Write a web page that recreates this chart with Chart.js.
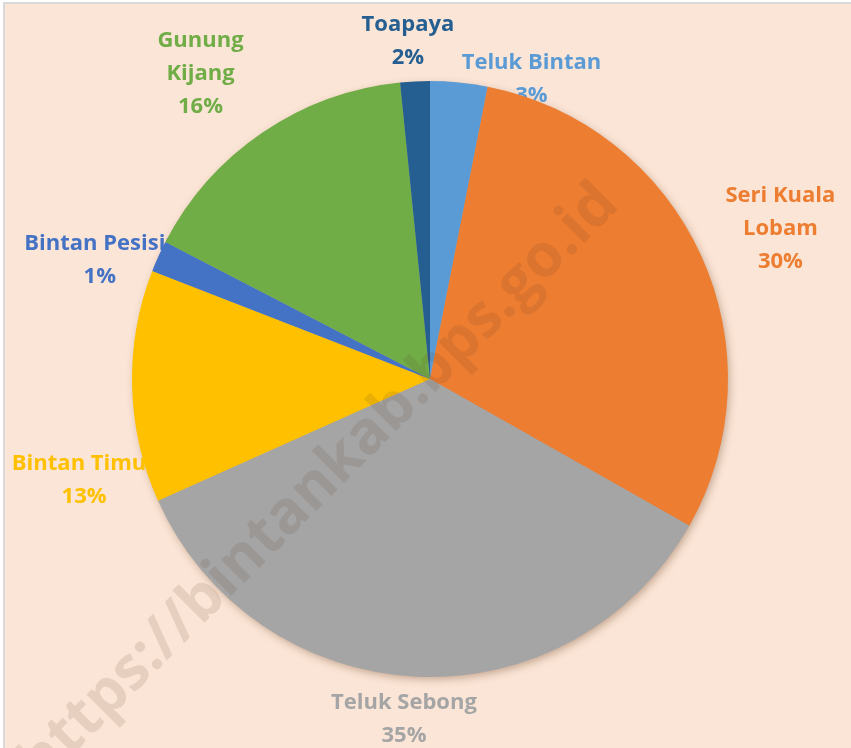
<!DOCTYPE html>
<html>
<head>
<meta charset="utf-8">
<script src="https://cdn.jsdelivr.net/npm/chart.js@4/dist/chart.umd.min.js"></script>
<style>
  html, body { margin: 0; padding: 0; background: #fff; }
  #wrap {
    position: absolute; left: 3px; top: 2px; width: 848px; height: 746px;
    border-left: 2px solid #d9d9d9; border-top: 2px solid #d9d9d9;
    background: #fbe5d6;
  }
  canvas { display: block; }
</style>
</head>
<body>
<div id="wrap"><canvas id="pie"></canvas></div>
<script>
// Kecamatan (clockwise from top) and share of the total, %
const kecamatan = ['Teluk Bintan', 'Seri Kuala Lobam', 'Teluk Sebong', 'Bintan Timur', 'Bintan Pesisir', 'Gunung Kijang', 'Toapaya'];
const persen = [3.1, 30.1, 35.1, 12.6, 1.7, 15.8, 1.6];
const labelPersen = ['3%', '30%', '35%', '13%', '1%', '16%', '2%'];
const warna = ['#5b9bd5', '#ed7d31', '#a5a5a5', '#ffc000', '#4472c4', '#70ad47', '#255e91'];

// how each label is broken into lines
const labelBaris = [['Teluk Bintan'], ['Seri Kuala', 'Lobam'], ['Teluk Sebong'], ['Bintan Timur'], ['Bintan Pesisir'], ['Gunung', 'Kijang'], ['Toapaya']];
// small shifts like the hand-moved labels in Excel
const geserLabel = [[68, 42], [10, 6], [-10, 0], [31, 92], [22, 40], [-22, 0], [-5, 1]];

const FONT = 'bold 22px "Open Sans"';
const LINE = 33;

// shadow under the whole pie
const shadowPlugin = {
  id: 'shadow',
  beforeDatasetsDraw(chart) {
    const arc = chart.getDatasetMeta(0).data[0];
    if (!arc) return;
    const ctx = chart.ctx;
    ctx.save();
    ctx.shadowColor = 'rgba(120, 80, 50, 0.45)';
    ctx.shadowBlur = 9;
    ctx.shadowOffsetX = 2;
    ctx.shadowOffsetY = 3;
    ctx.fillStyle = '#a5a5a5';
    ctx.beginPath();
    ctx.arc(arc.x, arc.y, arc.outerRadius - 1, 0, Math.PI * 2);
    ctx.fill();
    ctx.restore();
  }
};

// data labels outside the slices, drawn before the pie so the pie covers them
const labelPlugin = {
  id: 'outsideLabels',
  beforeDatasetsDraw(chart) {
    const ctx = chart.ctx;
    const meta = chart.getDatasetMeta(0);
    ctx.save();
    ctx.font = FONT;
    ctx.textAlign = 'center';
    ctx.textBaseline = 'middle';
    meta.data.forEach((arc, i) => {
      const lines = labelBaris[i].concat([labelPersen[i]]);
      const w = Math.max(...lines.map(t => ctx.measureText(t).width)) / 2;
      const h = lines.length * LINE / 2;
      const mid = (arc.startAngle + arc.endAngle) / 2;
      const dx = Math.cos(mid), dy = Math.sin(mid);
      const d = arc.outerRadius + 6 + Math.abs(dx) * w + Math.abs(dy) * h;
      const cx = arc.x + dx * d + geserLabel[i][0];
      const cy = arc.y + dy * d + geserLabel[i][1];
      ctx.fillStyle = warna[i];
      lines.forEach((t, k) => {
        ctx.fillText(t, cx, cy - h + LINE / 2 + k * LINE);
      });
    });
    ctx.restore();
  }
};

// watermark across the chart
const watermarkPlugin = {
  id: 'watermark',
  afterDraw(chart) {
    const ctx = chart.ctx;
    ctx.save();
    ctx.translate(314, 480);
    ctx.rotate(-45 * Math.PI / 180);
    ctx.font = 'bold 60px "Open Sans"';
    ctx.textAlign = 'center';
    ctx.textBaseline = 'middle';
    ctx.fillStyle = 'rgba(90, 60, 40, 0.13)';
    ctx.fillText('https://bintankab.bps.go.id', 0, 0);
    ctx.restore();
  }
};

const ctx = document.getElementById('pie').getContext('2d');
const chart = new Chart(ctx, {
  type: 'pie',
  data: {
    labels: kecamatan,
    datasets: [{
      data: persen,
      backgroundColor: warna,
      borderWidth: 0
    }]
  },
  options: {
    responsive: true,
    maintainAspectRatio: false,
    animation: false,
    layout: {
      padding: { left: 126, right: 124, top: 77, bottom: 73 }
    },
    plugins: {
      legend: { display: false },
      tooltip: { enabled: false }
    }
  },
  plugins: [shadowPlugin, labelPlugin, watermarkPlugin]
});
</script>
</body>
</html>
